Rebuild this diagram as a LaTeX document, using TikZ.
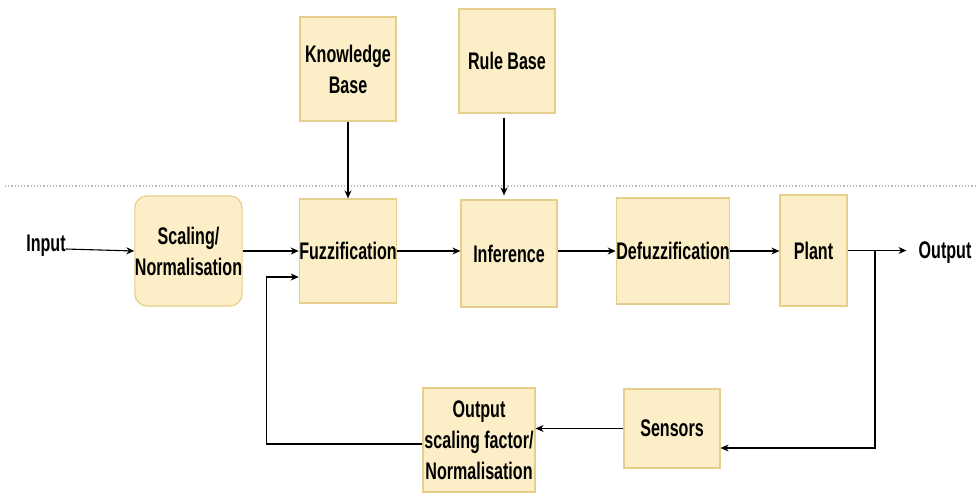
\documentclass[tikz,border=0pt]{standalone}
\usepackage{fontspec}
\setmainfont{Liberation Sans}[FakeStretch=0.67]
\usetikzlibrary{arrows.meta}
\definecolor{boxfill}{HTML}{FCEFC7}
\definecolor{boxline}{HTML}{E6CF8A}
\begin{document}
\begin{tikzpicture}[x=1pt,y=-1pt,
  blk/.style={draw=boxline,fill=boxfill,line width=1.2pt,rectangle,inner sep=0pt,align=center,
    font=\fontsize{24}{31}\selectfont\bfseries},
  lbl/.style={inner sep=0pt,font=\fontsize{24}{31}\selectfont\bfseries},
  arr/.style={draw=black,line width=1.1pt,-{Stealth[length=8pt,width=7pt]}}]
\useasboundingbox (0,0) rectangle (976,493);
\draw[gray!55,dotted,line width=1.2pt] (5,186) -- (976,186);
\node[blk,minimum width=96,minimum height=104] (kb) at (348,69) {Knowledge\\Base};
\node[blk,minimum width=96,minimum height=104] (rb) at (507,61) {Rule Base};
\node[blk,minimum width=107,minimum height=110,rounded corners=12pt] (scal) at (188.5,251) {Scaling/\\Normalisation};
\node[blk,minimum width=96,minimum height=104] (fuzz) at (348,251) {Fuzzification};
\node[blk,minimum width=96,minimum height=107] (inf) at (509,253.5) {Inference};
\node[blk,minimum width=110,minimum height=106] (defuzz) at (673,251) {Defuzzification};
\node[blk,minimum width=67,minimum height=111] (plant) at (813.5,250.5) {Plant};
\node[blk,minimum width=112,minimum height=104] (osc) at (479,440) {Output\\scaling factor/\\Normalisation};
\node[blk,minimum width=96,minimum height=79] (sens) at (672,428.5) {Sensors};
\node[lbl] (in) at (46,246) {Input};
\node[lbl] (out) at (945,253) {Output};
\coordinate (fb) at (875,250);
\draw[arr] ([yshift=-3pt]in.east) -- (scal.west);
\draw[arr,line width=1.8pt] (scal.east) -- (fuzz.west);
\draw[arr] (fuzz.east) -- (inf.west |- fuzz.east);
\draw[arr] (inf.east |- defuzz.west) -- (defuzz.west);
\draw[arr] (defuzz.east) -- (plant.west |- defuzz.east);
\draw[arr,shorten >=12pt] (plant.east) -- (out.west |- plant.east);
\draw[arr] (fb) |- ([yshift=-19.5pt]sens.east);
\draw[arr] (sens.west) -- (osc.east |- sens.west);
\draw[arr] ([yshift=-4pt]osc.west) -| ([xshift=-32pt,yshift=-26pt]fuzz.west) -- ([yshift=-26pt]fuzz.west);
\draw[arr] (kb.south) -- (fuzz.north);
\draw[arr,shorten <=4pt,shorten >=4pt] ([xshift=-3pt]rb.south) -- ([xshift=-3pt]rb.south |- inf.north);
\end{tikzpicture}
\end{document}
